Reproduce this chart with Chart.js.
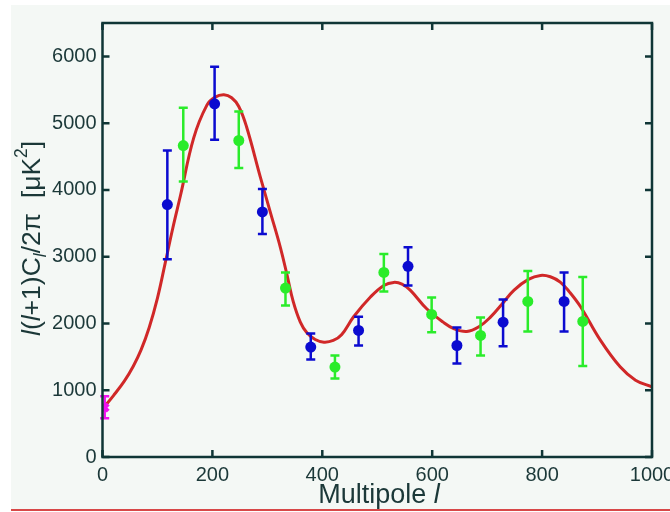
<!DOCTYPE html>
<html>
<head>
<meta charset="utf-8">
<script src="https://cdn.jsdelivr.net/npm/chart.js@4/dist/chart.umd.min.js"></script>
<style>
  html, body { margin: 0; padding: 0; background: #ffffff; }
  #wrap { width: 670px; height: 512px; position: relative; }
</style>
</head>
<body>
<div id="wrap"><canvas id="c" width="670" height="512"></canvas></div>
<script>
// ---- data ----
const xTicks = [0, 200, 400, 600, 800, 1000];
const yTicks = [0, 1000, 2000, 3000, 4000, 5000, 6000];

// theoretical curve (multipole l, value)
const curveL = [2, 20, 40, 56, 70, 85, 100, 114, 128, 142, 166, 190, 205, 221, 235, 248, 262, 287, 306, 324, 336, 347, 360, 372, 387, 403, 420, 435, 457, 488, 512, 530, 545, 560, 590, 620, 640, 663, 685, 706, 728, 749, 775, 797, 815, 833, 850, 870, 906, 942, 970, 1000];
const curveV = [740, 920, 1140, 1360, 1600, 1940, 2380, 2900, 3430, 3920, 4780, 5270, 5390, 5425, 5380, 5250, 4950, 4200, 3650, 3130, 2720, 2330, 2020, 1860, 1760, 1720, 1745, 1830, 2100, 2400, 2570, 2615, 2590, 2500, 2220, 2020, 1920, 1880, 1950, 2095, 2300, 2500, 2660, 2720, 2700, 2620, 2470, 2250, 1750, 1350, 1150, 1050];

// blue measurements
const blueL  = [118, 204, 291, 379, 466, 556, 645, 729, 840];
const blueV  = [3780, 5290, 3670, 1646, 1895, 2855, 1670, 2020, 2330];
const blueLo = [2960, 4750, 3340, 1460, 1670, 2570, 1400, 1660, 1880];
const blueHi = [4590, 5845, 4015, 1850, 2100, 3140, 1940, 2360, 2765];

// green measurements
const greenL  = [147, 248, 333, 423, 512, 599, 688, 774, 874];
const greenV  = [4665, 4740, 2530, 1347, 2765, 2135, 1820, 2330, 2030];
const greenLo = [4125, 4330, 2270, 1175, 2480, 1870, 1520, 1880, 1362];
const greenHi = [5230, 5175, 2765, 1520, 3040, 2390, 2090, 2785, 2695];

// magenta (COBE) measurement
const magL  = [4];
const magV  = [740];
const magLo = [580];
const magHi = [910];

// ---- styling ----
const AXIS = '#0f3636';
const TXT = '#1b3838';
const BLUE = '#0b0bd0';
const GREEN = '#2aec2a';
const MAG = '#f010f0';
const RED = '#d02828';
const FONT = '"Liberation Sans", Arial, sans-serif';

const pts = (L, V) => L.map((l, i) => ({ x: l, y: V[i] }));

const errSets = [
  { L: blueL, lo: blueLo, hi: blueHi, color: BLUE },
  { L: greenL, lo: greenLo, hi: greenHi, color: GREEN },
  { L: magL, lo: magLo, hi: magHi, color: MAG }
];

const bgPlugin = {
  id: 'bg',
  beforeDraw(chart) {
    const ctx = chart.ctx;
    ctx.save();
    ctx.fillStyle = '#ffffff';
    ctx.fillRect(0, 0, 670, 512);
    ctx.fillStyle = '#f4f8f5';
    ctx.fillRect(11, 5, 659, 505);
    ctx.fillStyle = '#d84848';
    ctx.fillRect(11, 509, 659, 2);
    ctx.restore();
  }
};

const errPlugin = {
  id: 'errbars',
  afterDatasetDraw(chart, args) {
    if (args.index !== 3) return;
    const ctx = chart.ctx, xs = chart.scales.x, ys = chart.scales.y;
    ctx.save();
    ctx.lineWidth = 2.5;
    errSets.forEach(s => {
      ctx.strokeStyle = s.color;
      s.L.forEach((l, i) => {
        const px = xs.getPixelForValue(l);
        const p1 = ys.getPixelForValue(s.lo[i]);
        const p2 = ys.getPixelForValue(s.hi[i]);
        ctx.beginPath();
        ctx.moveTo(px, p1); ctx.lineTo(px, p2);
        ctx.moveTo(px - 4.5, p1); ctx.lineTo(px + 4.5, p1);
        ctx.moveTo(px - 4.5, p2); ctx.lineTo(px + 4.5, p2);
        ctx.stroke();
      });
    });
    ctx.restore();
  }
};

const framePlugin = {
  id: 'frame',
  afterDraw(chart) {
    const ctx = chart.ctx, a = chart.chartArea, xs = chart.scales.x, ys = chart.scales.y;
    ctx.save();
    ctx.strokeStyle = AXIS;
    ctx.lineWidth = 2.5;
    ctx.strokeRect(a.left, a.top, a.right - a.left, a.bottom - a.top);
    ctx.beginPath();
    const T = 7;
    xTicks.forEach(v => {
      const px = xs.getPixelForValue(v);
      ctx.moveTo(px, a.bottom); ctx.lineTo(px, a.bottom - T);
      ctx.moveTo(px, a.top); ctx.lineTo(px, a.top + T);
    });
    yTicks.forEach(v => {
      const py = ys.getPixelForValue(v);
      ctx.moveTo(a.left, py); ctx.lineTo(a.left + T, py);
      ctx.moveTo(a.right, py); ctx.lineTo(a.right - T, py);
    });
    ctx.stroke();

    // x axis title
    ctx.fillStyle = TXT;
    ctx.textBaseline = 'alphabetic';
    const f1 = '27px ' + FONT;
    const f1i = 'italic 27px ' + FONT;
    ctx.font = f1; const w1 = ctx.measureText('Multipole ').width;
    ctx.font = f1i; const w2 = ctx.measureText('l').width;
    let x0 = 379 - (w1 + w2) / 2;
    ctx.font = f1; ctx.fillText('Multipole ', x0, 503);
    ctx.font = f1i; ctx.fillText('l', x0 + w1, 503);

    // y axis title (rotated)
    const segs = [
      { t: 'l', it: true }, { t: '(' }, { t: 'l', it: true }, { t: '+1)C' },
      { t: 'l', it: true, sub: true }, { t: '/2\u03c0  [\u03bcK' },
      { t: '2', sup: true }, { t: ']' }
    ];
    ctx.translate(40, 336);
    ctx.rotate(-Math.PI / 2);
    let cx = 0;
    segs.forEach(s => {
      const size = (s.sub || s.sup) ? 17.5 : 26.5;
      ctx.font = (s.it ? 'italic ' : '') + size + 'px ' + FONT;
      let dy = 0;
      if (s.sub) dy = 6;
      if (s.sup) dy = -13;
      ctx.fillText(s.t, cx, dy);
      cx += ctx.measureText(s.t).width;
    });
    ctx.restore();
  }
};

new Chart(document.getElementById('c'), {
  type: 'line',
  data: {
    datasets: [
      { label: 'blue', data: pts(blueL, blueV), showLine: false, pointRadius: 5.5, pointBackgroundColor: BLUE, pointBorderColor: BLUE, pointBorderWidth: 0 },
      { label: 'green', data: pts(greenL, greenV), showLine: false, pointRadius: 5.5, pointBackgroundColor: GREEN, pointBorderColor: GREEN, pointBorderWidth: 0 },
      { label: 'magenta', data: pts(magL, magV), showLine: false, pointRadius: 5, pointStyle: 'crossRot', pointBackgroundColor: MAG, pointBorderColor: MAG, pointBorderWidth: 4 },
      { label: 'model', data: pts(curveL, curveV), borderColor: RED, borderWidth: 3, pointRadius: 0, tension: 0.4, fill: false }
    ]
  },
  options: {
    responsive: false,
    animation: false,
    layout: { padding: { left: 0, top: 23, right: 18, bottom: 0 } },
    plugins: { legend: { display: false }, tooltip: { enabled: false } },
    scales: {
      x: {
        type: 'linear', min: 0, max: 1000,
        afterBuildTicks: s => { s.ticks = xTicks.map(v => ({ value: v })); },
        afterFit: s => { s.height = 55; s.paddingRight = 0; s.paddingLeft = 0; },
        grid: { display: false, drawTicks: false },
        border: { display: false },
        ticks: { color: TXT, padding: 6, maxRotation: 0, callback: v => String(v), font: { family: FONT, size: 20 } }
      },
      y: {
        type: 'linear', min: 0, max: 6500,
        afterBuildTicks: s => { s.ticks = yTicks.map(v => ({ value: v })); },
        afterFit: s => { s.width = 102.5; s.paddingTop = 0; s.paddingBottom = 0; },
        grid: { display: false, drawTicks: false },
        border: { display: false },
        ticks: { color: TXT, padding: 6, callback: v => String(v), font: { family: FONT, size: 20 } }
      }
    }
  },
  plugins: [bgPlugin, errPlugin, framePlugin]
});
</script>
</body>
</html>
